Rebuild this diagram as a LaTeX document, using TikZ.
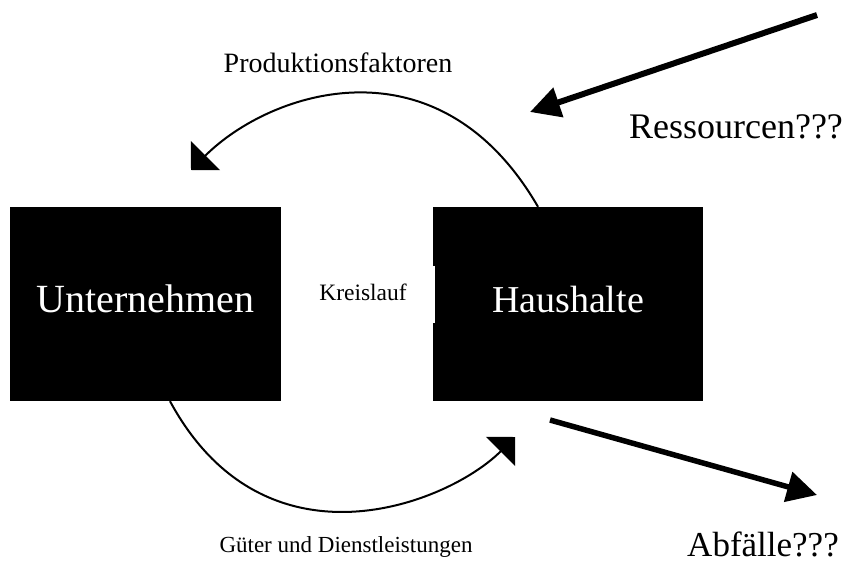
\documentclass[tikz,border=0pt]{standalone}
\usepackage{fontspec}
\setmainfont{Liberation Serif}
\usetikzlibrary{arrows.meta}
\begin{document}
\begin{tikzpicture}[x=1pt,y=-1pt,
  sector/.style={fill=black, draw=none, text=white, minimum height=194pt, inner sep=0pt,
    font=\fontsize{38}{44}\selectfont, text height=26pt, text depth=10pt},
  lbl/.style={anchor=base, inner sep=0pt},
  flow/.style={line width=2pt, -{Triangle[length=20.5pt,width=41pt]}},
  bigarrow/.style={line width=6pt, -{Triangle[length=30pt,width=30pt]}}]
\useasboundingbox (0,0) rectangle (848,562);
% boxes
\node[sector, minimum width=271pt, font=\fontsize{40}{46}\selectfont] (U) at (145.5,304) {Unternehmen};
\node[sector, minimum width=270pt] (H) at (568,304) {Haushalte};
\node[fill=white, minimum width=144pt, minimum height=57pt, inner sep=0pt,
  text height=16pt, text depth=5pt, font=\fontsize{23.5}{28}\selectfont] (K) at (363,294.5) {Kreislauf};
% circular flows
\coordinate (ua) at ([xshift=-30pt]H.north);
\coordinate (ut) at (191,170);
\coordinate (ls) at ([xshift=24.5pt]U.south);
\coordinate (lt) at (515,437);
\draw[flow] (ua) .. controls (438.5,35) and (270.5,90.5) .. (ut);
\draw[flow] (ls) .. controls (265,576.6) and (448,504) .. (lt);
% resources and waste
\coordinate (rs) at (817,15);
\coordinate (re) at (530,112);
\coordinate (as) at (550,420);
\coordinate (ae) at (817,495);
\draw[bigarrow] (rs) -- (re);
\draw[bigarrow, line width=5.5pt] (as) -- (ae);
% labels
\node[lbl, font=\fontsize{28}{32}\selectfont] (P) at (338,72) {Produktionsfaktoren};
\node[lbl, font=\fontsize{23}{28}\selectfont] (G) at (346,552) {Güter und Dienstleistungen};
\node[lbl, font=\fontsize{36}{40}\selectfont] (R) at (736,138) {Ressourcen???};
\node[lbl, font=\fontsize{35}{40}\selectfont] (A) at (763,556) {Abfälle???};
\end{tikzpicture}
\end{document}
